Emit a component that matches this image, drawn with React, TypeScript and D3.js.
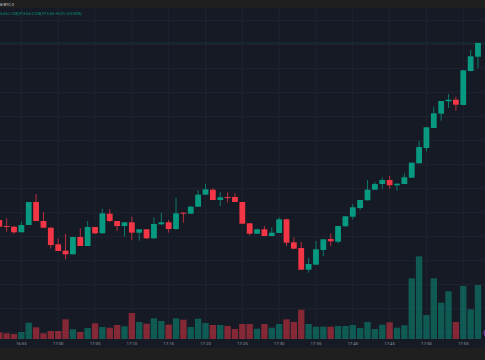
import React from "react";
import * as d3 from "d3";

const W = 485;
const H = 360;

// 1-minute candles, first one at 16:52
const startTime = new Date(2025, 5, 20, 16, 52);
const titleText = "8/BTC-3";
const legendText = "5.65 L108,913.65 C108,913.65 +0.01 (+0.00%)";

const opens = [
  108737, 108731, 108730.3, 108724.7, 108732, 108755, 108736, 108729.3, 108712.7, 108706.3,
  108702.7, 108720, 108711, 108730, 108723.7, 108743.3, 108736, 108731, 108734.7, 108724.3,
  108727.7, 108718.7, 108732.7, 108734.7, 108728, 108744.3, 108743.3, 108750.3, 108762.3, 108767.3,
  108757, 108760, 108760, 108755, 108733.7, 108723.3, 108727.7, 108721, 108724, 108737.7,
  108714.7, 108709, 108687.3, 108692.3, 108707, 108718, 108715.3, 108730.7, 108740.3, 108749,
  108756.7, 108767.3, 108773, 108777, 108771.7, 108773, 108779.3, 108793.7, 108809, 108829,
  108843.3, 108855.7, 108857.3, 108852, 108886, 108900.3,
];
const highs = [
  108738.5, 108738.7, 108731, 108735.3, 108755, 108763, 108745, 108730, 108718.7, 108723,
  108720, 108728.7, 108736, 108730, 108748.3, 108747.7, 108736, 108735, 108740.3, 108727.7,
  108727.7, 108739.3, 108744.3, 108737, 108759, 108744.7, 108751, 108767, 108773, 108768.7,
  108764.7, 108764.7, 108763.7, 108755, 108734, 108728.3, 108731, 108729.7, 108739.7, 108738.3,
  108719.7, 108715, 108699, 108716, 108718, 108723.7, 108731, 108741, 108753, 108757,
  108777, 108775, 108779.7, 108781.3, 108773.7, 108783.7, 108794.3, 108816.3, 108830, 108850.3,
  108856, 108863, 108860.3, 108887, 108907, 108914,
];
const lows = [
  108729, 108725.3, 108723, 108724.7, 108732, 108736, 108729, 108708.7, 108706, 108697.7,
  108702.7, 108711, 108711, 108723, 108723.7, 108735, 108726, 108720.3, 108717, 108716.3,
  108718, 108718, 108732, 108724.3, 108727, 108734.3, 108743, 108750.3, 108762, 108757,
  108751, 108754.3, 108755, 108733, 108721.7, 108723, 108721, 108721, 108724, 108711,
  108708, 108687, 108684.3, 108692.3, 108701, 108711, 108713.7, 108730.7, 108737.7, 108747,
  108756.7, 108767.3, 108768.3, 108768.3, 108766.3, 108773, 108779.3, 108793.7, 108805.7, 108829,
  108836.3, 108849, 108846.3, 108852, 108885.5, 108888.7,
];
const closes = [
  108730.3, 108730.5, 108724.7, 108732, 108755, 108736, 108729.3, 108712, 108706, 108702.7,
  108720, 108711, 108730, 108723.7, 108743.7, 108736, 108731, 108734.7, 108724.3, 108727.7,
  108718.7, 108733, 108734.7, 108728, 108743.7, 108744, 108750.3, 108762.3, 108767.7, 108757,
  108759.7, 108759.7, 108755, 108733.3, 108723.3, 108727.7, 108721, 108724.3, 108737.7, 108714.3,
  108708.3, 108687.3, 108693, 108707.7, 108717.7, 108715.7, 108731, 108740.7, 108749.7, 108757,
  108767.3, 108773, 108777, 108771.7, 108773.3, 108779.7, 108794.3, 108810, 108829.7, 108843.7,
  108856, 108857.3, 108852.3, 108886.7, 108900.7, 108914,
];
const volumes = [
  6.7, 5.7, 5, 7, 16.3, 11.7, 5.7, 8, 8, 19.7,
  9.7, 7, 11, 15.7, 12, 11.3, 14, 12.7, 26, 17,
  15.3, 20.7, 18, 14.3, 20.7, 19.3, 12, 20.3, 16, 14,
  14, 13, 10, 15, 15, 10.3, 15, 11.3, 15, 19.7,
  17, 29.3, 15, 12.3, 12.3, 12.3, 13, 13, 14, 11,
  17, 10, 14.3, 16.7, 11.3, 13.7, 60.7, 82.7, 24, 60.7,
  36.3, 47.7, 17, 53, 29.7, 54,
];
const gridPrices = [
  108936.3, 108912.3, 108888.3, 108864.3, 108840.3, 108816.3, 108792.3,
  108768.3, 108744.3, 108720.3, 108696.3, 108672.3, 108648.3, 108624.3,
];

const UP = "#089981";
const DOWN = "#f23645";
const BG = "#161a25";
const OUTER = "#1f1f1f";
const GRID = "#1f2330";

export default function App() {
  const n = opens.length;
  const times = d3.range(n).map((i) => d3.timeMinute.offset(startTime, i));
  const spacing = 7.365;
  const x = d3
    .scaleTime()
    .domain([times[0], times[n - 1]])
    .range([14 - 2 * spacing, 14 + (n - 3) * spacing]);
  const y = d3.scaleLinear().domain([108597, 108957]).range([360, 0]);
  const volBase = 339;
  const yv = d3.scaleLinear().domain([0, 100]).range([volBase, volBase - 100]);
  const ticks = x.ticks(d3.timeMinute.every(5) as any).filter((t) => x(t) > 0 && x(t) < W);
  const fmt = d3.timeFormat("%H:%M");
  const bodyW = 5.8;
  const lastClose = closes[n - 1];

  return (
    <svg
      width={W}
      height={H}
      style={{ position: "absolute", left: 0, top: 0, display: "block" }}
      fontFamily="Roboto, 'DejaVu Sans', sans-serif"
    >
      <rect x={0} y={0} width={W} height={H} fill={BG} />
      {/* grid */}
      {gridPrices.map((p, i) => (
        <line key={"h" + i} x1={0} x2={W} y1={y(p)} y2={y(p)} stroke={GRID} strokeWidth={1} />
      ))}
      {ticks.map((t, i) => (
        <line key={"v" + i} x1={x(t)} x2={x(t)} y1={8} y2={volBase} stroke={GRID} strokeWidth={1} />
      ))}
      {/* volume */}
      {volumes.map((v, i) => {
        const up = closes[i] >= opens[i];
        const cx = x(times[i]);
        return (
          <rect
            key={"vol" + i}
            x={cx - spacing / 2 + 0.5}
            y={yv(v)}
            width={spacing - 1}
            height={volBase - yv(v)}
            fill={up ? UP : DOWN}
            fillOpacity={0.5}
          />
        );
      })}
      {/* price line */}
      <line x1={0} x2={W} y1={y(lastClose)} y2={y(lastClose)} stroke={UP} strokeOpacity={0.2} strokeWidth={1} />
      {/* candles */}
      {opens.map((o, i) => {
        const c = closes[i];
        const up = c >= o;
        const col = up ? UP : DOWN;
        const cx = x(times[i]);
        const top = y(Math.max(o, c));
        const bot = y(Math.min(o, c));
        return (
          <g key={"c" + i}>
            <line x1={cx} x2={cx} y1={y(highs[i])} y2={y(lows[i])} stroke={col} strokeOpacity={0.75} strokeWidth={1} />
            <rect x={cx - bodyW / 2} y={top} width={bodyW} height={Math.max(1, bot - top)} fill={col} />
          </g>
        );
      })}
      {/* time axis */}
      <rect x={0} y={volBase} width={W} height={8.5} fill={BG} />
      {ticks.map((t, i) => (
        <text key={"t" + i} x={x(t)} y={345} fontSize={4.3} fill="#b2b5be" fillOpacity={0.85} textAnchor="middle">
          {fmt(t)}
        </text>
      ))}
      <rect x={0} y={347.5} width={W} height={H - 347.5} fill={OUTER} />
      {/* header */}
      <rect x={0} y={0} width={W} height={8} fill={OUTER} />
      <text x={0} y={6} fontSize={3.8} fill="#d1d4dc">
        {titleText}
      </text>
      <text x={0} y={15.3} fontSize={4} fill={UP}>
        {legendText}
      </text>
      {/* corner marker */}
      <circle cx={488} cy={333} r={4} fill="#2a1f35" stroke="#8e44ad" strokeWidth={1} />
    </svg>
  );
}
